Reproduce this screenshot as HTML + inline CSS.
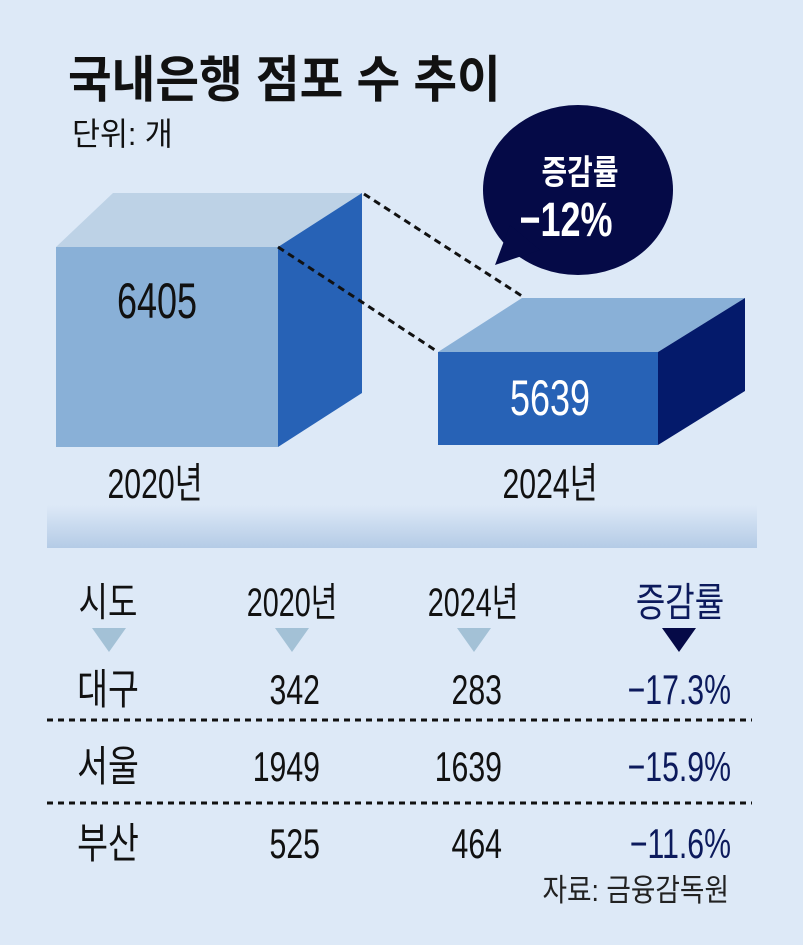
<!DOCTYPE html>
<html><head><meta charset="utf-8"><style>
body{margin:0;background:#dde9f7;}
svg{display:block}
text{font-family:"Liberation Sans","Noto Sans CJK KR",sans-serif;}
</style></head><body>
<svg width="803" height="945" viewBox="0 0 803 945" xmlns="http://www.w3.org/2000/svg">
<defs><linearGradient id="g" x1="0" y1="0" x2="0" y2="1"><stop offset="0" stop-color="#dde9f7"/><stop offset="1" stop-color="#b4cbe6"/></linearGradient></defs>
<rect width="803" height="945" fill="#dde9f7"/>
<text x="68" y="97" font-size="50" font-weight="bold" fill="#111" transform="translate(68 0) scale(0.95 1) translate(-68 0)">국내은행 점포 수 추이</text>
<text x="72" y="145" font-size="32" fill="#111" transform="translate(72 0) scale(0.95 1) translate(-72 0)">단위: 개</text>
<!-- box1 -->
<polygon points="56,247 113,193 362,193 278,247" fill="#bdd2e6"/>
<rect x="56" y="247" width="222" height="200" fill="#89b0d7"/>
<polygon points="278,247 362,193 362,393 278,447" fill="#2762b6"/>
<!-- box2 -->
<polygon points="438,352 522,298 745,298 658,352" fill="#89b0d7"/>
<rect x="438" y="352" width="220" height="93" fill="#2762b6"/>
<polygon points="658,352 745,298 745,391 658,445" fill="#041a6b"/>
<line x1="364" y1="194" x2="525" y2="298" stroke="#111" stroke-width="3" stroke-dasharray="7,5"/>
<line x1="278" y1="247" x2="438" y2="352" stroke="#111" stroke-width="3" stroke-dasharray="7,5"/>
<!-- bubble -->
<ellipse cx="578" cy="190" rx="95" ry="85" fill="#050a47"/>
<polygon points="510,225 495,265 540,250" fill="#050a47"/>
<text x="580" y="184" font-size="34" font-weight="bold" fill="#fff" text-anchor="middle" transform="translate(580 0) scale(0.82 1) translate(-580 0)">증감률</text>
<text x="566" y="236" font-size="48" font-weight="bold" fill="#fff" text-anchor="middle" transform="translate(566 0) scale(0.75 1) translate(-566 0)">−12%</text>
<text x="157" y="318" font-size="50" fill="#111" text-anchor="middle" transform="translate(157 0) scale(0.72 1) translate(-157 0)">6405</text>
<text x="550" y="415" font-size="50" fill="#fff" text-anchor="middle" transform="translate(550 0) scale(0.72 1) translate(-550 0)">5639</text>
<text x="155" y="498" font-size="42" fill="#111" text-anchor="middle" transform="translate(155 0) scale(0.72 1) translate(-155 0)">2020년</text>
<text x="550" y="498" font-size="42" fill="#111" text-anchor="middle" transform="translate(550 0) scale(0.72 1) translate(-550 0)">2024년</text>
<rect x="47" y="505" width="710" height="43" fill="url(#g)"/>
<!-- table -->
<g font-size="40" fill="#111" text-anchor="middle">
<text x="108" y="616" transform="translate(108 0) scale(0.8 1) translate(-108 0)">시도</text>
<text x="292" y="616" transform="translate(292 0) scale(0.72 1) translate(-292 0)">2020년</text>
<text x="473" y="616" transform="translate(473 0) scale(0.72 1) translate(-473 0)">2024년</text>
<text x="680" y="616" fill="#0c1a5c" transform="translate(680 0) scale(0.8 1) translate(-680 0)">증감률</text>
</g>
<polygon points="92,628 126,628 109,652" fill="#a3c1d6"/>
<polygon points="275,628 309,628 292,652" fill="#a3c1d6"/>
<polygon points="457,628 491,628 474,652" fill="#a3c1d6"/>
<polygon points="662,628 696,628 679,652" fill="#050a47"/>
<g font-size="42" fill="#111">
<g text-anchor="middle">
<text x="108" y="704" transform="translate(108 0) scale(0.8 1) translate(-108 0)">대구</text>
<text x="108" y="781" transform="translate(108 0) scale(0.8 1) translate(-108 0)">서울</text>
<text x="108" y="858" transform="translate(108 0) scale(0.8 1) translate(-108 0)">부산</text>
</g>
<g text-anchor="end">
<text x="320" y="704" transform="translate(320 0) scale(0.72 1) translate(-320 0)">342</text>
<text x="320" y="781" transform="translate(320 0) scale(0.72 1) translate(-320 0)">1949</text>
<text x="320" y="858" transform="translate(320 0) scale(0.72 1) translate(-320 0)">525</text>
<text x="502" y="704" transform="translate(502 0) scale(0.72 1) translate(-502 0)">283</text>
<text x="502" y="781" transform="translate(502 0) scale(0.72 1) translate(-502 0)">1639</text>
<text x="502" y="858" transform="translate(502 0) scale(0.72 1) translate(-502 0)">464</text>
<g fill="#0c1a5c">
<text x="731" y="704" transform="translate(731 0) scale(0.72 1) translate(-731 0)">−17.3%</text>
<text x="731" y="781" transform="translate(731 0) scale(0.72 1) translate(-731 0)">−15.9%</text>
<text x="731" y="858" transform="translate(731 0) scale(0.72 1) translate(-731 0)">−11.6%</text>
</g>
</g>
</g>
<line x1="47" y1="720" x2="752" y2="720" stroke="#111" stroke-width="3" stroke-dasharray="6,5"/>
<line x1="47" y1="803" x2="752" y2="803" stroke="#111" stroke-width="3" stroke-dasharray="6,5"/>
<text x="729" y="901" font-size="31" fill="#222" text-anchor="end" transform="translate(729 0) scale(0.86 1) translate(-729 0)">자료: 금융감독원</text>
</svg>
</body></html>
